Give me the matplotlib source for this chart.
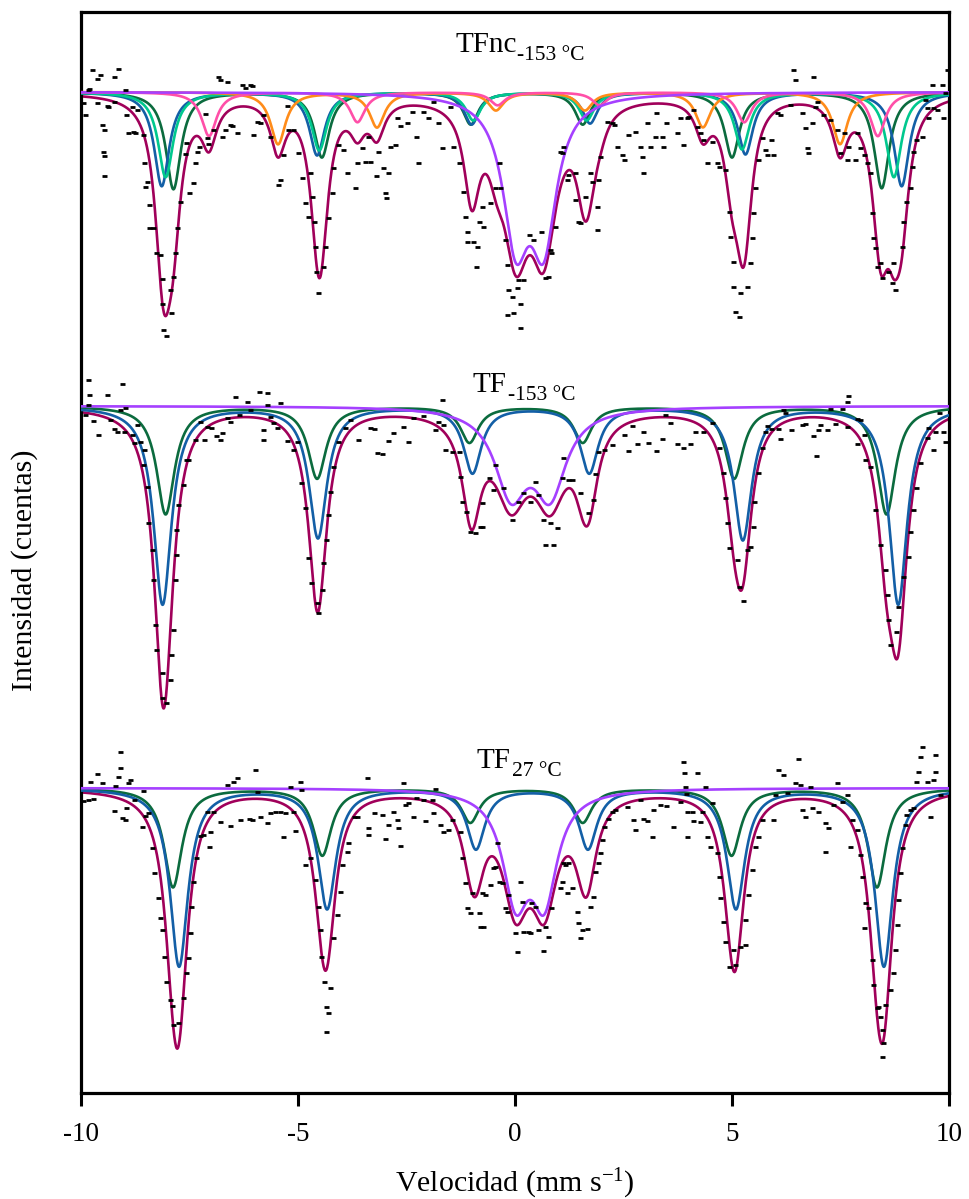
import numpy as np
import matplotlib.pyplot as plt

plt.rcParams['font.family'] = ['Liberation Serif', 'DejaVu Serif']
plt.rcParams['mathtext.fontset'] = 'custom'
plt.rcParams['mathtext.rm'] = 'Liberation Serif'
plt.rcParams['mathtext.default'] = 'regular'
plt.rcParams['axes.unicode_minus'] = False

# ---- colours ----
c_total = '#A0005A'
c_dgreen = '#0B6B3E'
c_blue = '#135FA6'
c_teal = '#00C88E'
c_orange = '#FF8C1A'
c_pink = '#FF4FA8'
c_purple = '#A540FF'

# ---- TFnc -153 C : baseline, sextets (line positions mm/s, depths), doublet ----
tfnc_base = 1001
tfnc_width = 0.21
tfnc_dgreen_pos = [-7.87, -4.45, -1.02, 1.56, 5.0, 8.45]
tfnc_dgreen_dep = [97, 65, 32, 32, 65, 96]
tfnc_blue_pos = [-8.14, -4.56, -1.0, 1.73, 5.31, 8.91]
tfnc_blue_dep = [94, 63, 32, 31, 62, 94]
tfnc_teal_pos = [-8.05, -4.51, -0.96, 1.65, 5.23, 8.73]
tfnc_teal_dep = [85, 58, 28, 28, 57, 85]
tfnc_orange_pos = [-5.46, -3.18, -0.44, 1.61, 4.33, 7.49]
tfnc_orange_dep = [52, 35, 18, 18, 35, 52]
tfnc_pink_pos = [-7.05, -3.63, -0.40, 1.95, 5.28, 8.36]
tfnc_pink_dep = [44, 30, 13, 13, 30, 44]
tfnc_dbl_pos = [0.02, 0.66]
tfnc_dbl_dep = [138, 138]
tfnc_dbl_width = 0.36

# ---- TF -153 C ----
tf153_base = 687
tf153_width = 0.25
tf153_green_pos = [-8.05, -4.56, -1.05, 1.56, 5.05, 8.56]
tf153_green_dep = [108, 72, 36, 36, 72, 108]
tf153_blue_pos = [-8.12, -4.54, -0.98, 1.71, 5.25, 8.83]
tf153_blue_dep = [198, 131, 66, 66, 133, 198]
tf153_dbl_pos = [-0.093, 0.807]
tf153_dbl_dep = [82, 82]
tf153_dbl_width = 0.45

# ---- TF 27 C ----
tf27_base = 305
tf27_width = 0.25
tf27_green_pos = [-7.88, -4.44, -1.03, 1.56, 4.99, 8.34]
tf27_green_dep = [99, 67, 34, 34, 67, 99]
tf27_blue_pos = [-7.74, -4.33, -0.90, 1.68, 5.09, 8.50]
tf27_blue_dep = [178, 120, 60, 60, 120, 178]
tf27_dbl_pos = [0.015, 0.675]
tf27_dbl_dep = [103, 103]
tf27_dbl_width = 0.36

# ---- panel labels ----
label_main = ['TFnc', 'TF', 'TF']
label_sub = ['-153 °C', '-153 °C', '27 °C']
label_x = [-1.38, -0.97, -0.88]
label_y = [1041, 701, 325]

# ---- measured points (velocity mm/s, counts a.u.) ----
tfnc_points = [
    (-9.96, 990), (-9.91, 978), (-9.85, 1003), (-9.81, 1004), (-9.75, 1023), (-9.64, 1014), (-9.56, 1018),
    (-9.62, 990), (-9.52, 968), (-9.47, 963), (-9.49, 941), (-9.46, 937), (-9.47, 917), (-9.41, 987),
    (-9.37, 986), (-9.25, 1016), (-9.24, 991), (-9.14, 1024), (-8.99, 1003), (-8.96, 978), (-8.91, 960),
    (-8.81, 961), (-8.76, 960), (-8.83, 986), (-8.72, 983), (-8.56, 958), (-8.55, 930), (-8.49, 911),
    (-8.53, 906), (-8.43, 888), (-8.43, 865), (-8.33, 865), (-8.28, 840), (-8.18, 838), (-8.14, 814),
    (-8.13, 789), (-8.10, 763), (-8.05, 757), (-7.95, 803), (-7.93, 780), (-7.87, 816), (-7.83, 840),
    (-7.78, 865), (-7.72, 891), (-7.60, 939), (-7.57, 950), (-7.50, 900), (-7.41, 910), (-7.37, 930),
    (-7.33, 941), (-7.27, 946), (-7.14, 979), (-7.10, 955), (-7.07, 949), (-6.95, 963), (-6.84, 1016),
    (-6.80, 1013), (-6.64, 1011), (-6.74, 956), (-6.68, 963), (-6.57, 968), (-6.51, 967), (-6.41, 960),
    (-6.30, 1008), (-6.22, 1005), (-6.11, 1008), (-6.07, 1007), (-6.03, 958), (-5.95, 971), (-5.88, 970),
    (-5.80, 978), (-5.65, 956), (-5.45, 908), (-5.41, 913), (-5.34, 938), (-5.26, 987), (-5.22, 963),
    (-5.11, 963), (-5.01, 940), (-4.90, 915), (-4.84, 890), (-4.76, 876), (-4.72, 920), (-4.67, 896),
    (-4.63, 871), (-4.61, 846), (-4.58, 821), (-4.55, 800), (-4.43, 826), (-4.38, 846), (-4.30, 875),
    (-4.22, 900), (-4.19, 925), (-4.07, 948), (-3.96, 943), (-3.88, 920), (-3.69, 905), (-3.65, 930),
    (-3.53, 945), (-3.46, 931), (-3.38, 956), (-3.34, 931), (-3.20, 917), (-3.16, 941), (-3.03, 925),
    (-2.99, 900), (-2.97, 895), (-2.93, 920), (-2.88, 946), (-2.76, 948), (-2.73, 975), (-2.65, 967),
    (-2.50, 970), (-2.38, 981), (-2.27, 956), (-2.23, 930), (-2.11, 981), (-2.00, 975), (-1.88, 991),
    (-1.77, 970), (-1.69, 945), (-1.50, 986), (-1.42, 946), (-1.29, 930), (-1.19, 901), (-1.15, 876),
    (-1.11, 861), (-1.11, 851), (-0.96, 851), (-0.90, 826), (-0.87, 846), (-0.83, 871),
    (-0.77, 886), (-0.73, 866), (-0.58, 890), (-0.46, 905), (-0.38, 930), (-0.35, 905), (-0.23, 853),
    (-0.19, 828), (-0.15, 803), (-0.08, 796), (-0.19, 778), (-0.04, 780), (0.04, 805), (0.08, 813),
    (0.12, 789), (0.12, 765), (0.19, 813), (0.33, 858), (0.42, 853), (0.61, 861), (0.69, 815),
    (0.77, 816), (0.81, 843), (0.84, 840), (0.92, 866), (1.04, 941), (1.08, 940), (1.11, 946),
    (1.19, 913), (1.23, 918), (1.38, 920), (1.38, 893), (1.46, 871), (1.50, 870), (1.61, 896),
    (1.73, 920), (1.77, 911), (1.88, 886), (1.90, 863), (1.92, 913), (1.96, 936), (2.11, 971),
    (2.23, 970), (2.27, 968), (2.34, 946), (2.46, 938), (2.50, 933), (2.61, 958), (2.76, 961),
    (2.88, 946), (2.92, 936), (2.96, 920), (3.03, 970), (3.11, 946), (3.23, 956), (3.26, 980),
    (3.38, 956), (3.42, 946), (3.49, 970), (3.73, 960), (3.80, 975), (3.88, 948), (3.96, 975),
    (3.99, 976), (4.11, 983), (4.19, 966), (4.26, 960), (4.34, 953), (4.42, 930), (4.53, 951),
    (4.65, 930), (4.69, 926), (4.84, 923), (4.92, 881), (4.95, 856), (5.03, 831), (5.03, 806),
    (5.07, 781), (5.15, 776), (5.18, 800), (5.34, 806), (5.41, 830), (5.45, 855), (5.49, 880),
    (5.53, 905), (5.61, 933), (5.68, 955), (5.76, 943), (5.80, 938), (5.91, 953), (5.95, 938),
    (6.03, 980), (6.11, 978), (6.34, 988), (6.41, 1023), (6.45, 1013), (6.61, 980), (6.68, 965),
    (6.72, 945), (6.76, 940), (6.84, 970), (6.87, 1016), (6.91, 986), (6.95, 991), (7.10, 978),
    (7.26, 973), (7.41, 963), (7.49, 940), (7.57, 960), (7.64, 933), (7.68, 946), (7.83, 933),
    (7.87, 960), (7.95, 945), (8.03, 938), (8.10, 930), (8.18, 920), (8.22, 880), (8.26, 855),
    (8.29, 845), (8.33, 826), (8.41, 830), (8.45, 815), (8.60, 821), (8.68, 810), (8.72, 830),
    (8.76, 803), (8.91, 846), (8.95, 871), (9.02, 891), (9.10, 905), (9.14, 926), (9.18, 941),
    (9.25, 953), (9.37, 956), (9.45, 993), (9.49, 985), (9.52, 975), (9.60, 1008), (9.64, 985),
    (9.72, 983), (9.83, 1008), (9.87, 975), (9.91, 1000), (9.95, 1023),
]

tf153_points = [
    (-9.91, 678), (-9.85, 688), (-9.83, 713), (-9.81, 698), (-9.73, 672), (-9.60, 658), (-9.41, 698),
    (-9.33, 673), (-9.25, 664), (-9.18, 661), (-9.10, 683), (-9.06, 709), (-9.01, 661), (-8.99, 685),
    (-8.83, 658), (-8.79, 650), (-8.72, 668), (-8.64, 651), (-8.55, 643), (-8.56, 628), (-8.49, 606),
    (-8.45, 570), (-8.37, 543), (-8.33, 513), (-8.29, 468), (-8.27, 443), (-8.14, 420), (-8.13, 395),
    (-8.05, 390), (-7.95, 413), (-7.93, 438), (-7.89, 463), (-7.83, 513), (-7.81, 538), (-7.80, 563),
    (-7.76, 588), (-7.66, 608), (-7.57, 633), (-7.53, 633), (-7.37, 653), (-7.26, 671), (-7.17, 653),
    (-7.10, 666), (-7.01, 665), (-6.89, 657), (-6.80, 653), (-6.76, 660), (-6.64, 675), (-6.57, 671),
    (-6.45, 696), (-6.37, 678), (-6.18, 691), (-6.11, 683), (-5.91, 701), (-5.72, 700), (-5.80, 663),
    (-5.80, 653), (-5.72, 688), (-5.65, 676), (-5.57, 670), (-5.49, 665), (-5.41, 690), (-5.26, 652),
    (-5.11, 643), (-5.03, 651), (-4.92, 610), (-4.84, 585), (-4.76, 535), (-4.71, 510), (-4.57, 490),
    (-4.53, 480), (-4.45, 503), (-4.42, 530), (-4.35, 553), (-4.30, 578), (-4.26, 601), (-4.19, 626),
    (-4.07, 651), (-3.92, 665), (-3.80, 673), (-3.61, 653), (-3.34, 665), (-3.26, 664), (-3.19, 640),
    (-3.07, 639), (-2.92, 652), (-2.80, 660), (-2.57, 666), (-2.46, 651), (-2.34, 675), (-2.11, 677),
    (-1.84, 663), (-1.77, 671), (-1.69, 693), (-1.65, 668), (-1.61, 643), (-1.46, 641), (-1.30, 641),
    (-1.27, 616), (-1.23, 591), (-1.13, 581), (-1.04, 561), (-0.92, 560), (-0.81, 566),
    (-0.77, 590), (-0.77, 566), (-0.61, 615), (-0.50, 603), (-0.46, 628), (-0.27, 605), (-0.08, 573),
    (0.08, 591), (0.19, 600), (0.35, 591), (0.46, 611), (0.54, 598), (0.65, 573), (0.81, 570),
    (0.69, 548), (0.88, 548), (0.96, 565), (1.08, 615), (1.11, 635), (1.23, 613), (1.31, 613),
    (1.50, 600), (1.69, 580), (1.80, 593), (1.84, 619), (1.92, 641), (2.04, 643), (2.23, 648),
    (2.50, 658), (2.61, 642), (2.69, 667), (2.80, 649), (2.96, 661), (3.07, 650), (3.24, 642),
    (3.39, 654), (3.46, 678), (3.57, 670), (3.73, 649), (3.88, 645), (4.03, 649), (4.15, 661),
    (4.34, 661), (4.53, 670), (4.69, 645), (4.80, 620), (4.84, 595), (4.88, 570), (4.92, 545),
    (5.11, 533), (5.15, 506), (5.26, 492), (5.34, 543), (5.41, 546), (5.49, 566), (5.51, 591),
    (5.61, 620), (5.68, 645), (5.76, 661), (5.80, 667), (5.91, 664), (6.07, 664), (6.11, 654),
    (6.18, 683), (6.22, 680), (6.37, 663), (6.61, 668), (6.68, 669), (6.87, 657), (6.94, 637),
    (6.99, 663), (7.03, 668), (7.18, 663), (7.26, 684), (7.37, 669), (7.53, 684), (7.64, 691),
    (7.68, 697), (7.64, 666), (7.87, 674), (7.95, 673), (7.87, 649), (8.03, 658), (8.06, 633),
    (8.18, 626), (8.29, 583), (8.41, 548), (8.53, 523), (8.56, 498), (8.60, 473), (8.64, 448),
    (8.78, 461), (8.83, 486), (8.95, 516), (9.06, 536), (9.10, 561), (9.18, 583), (9.25, 605),
    (9.33, 630), (9.49, 655), (9.52, 665), (9.64, 643), (9.68, 661), (9.76, 680), (9.87, 661),
    (9.91, 651),
]

tf27_points = [
    (-9.95, 292), (-9.83, 293), (-9.72, 294), (-9.79, 311), (-9.62, 319), (-9.52, 310), (-9.25, 282),
    (-9.22, 307), (-9.14, 316), (-9.09, 325), (-9.10, 341), (-9.06, 275), (-8.99, 273), (-8.96, 285),
    (-8.91, 310), (-8.86, 313), (-8.79, 293), (-8.60, 266), (-8.56, 302), (-8.53, 277), (-8.45, 280),
    (-8.37, 245), (-8.32, 220), (-8.22, 195), (-8.18, 175), (-8.13, 163), (-8.09, 136), (-8.03, 111),
    (-7.95, 93), (-7.91, 87), (-7.87, 68), (-7.76, 70), (-7.64, 95), (-7.59, 120), (-7.53, 135),
    (-7.49, 160), (-7.47, 186), (-7.41, 211), (-7.35, 235), (-7.26, 257), (-7.18, 258), (-7.10, 281),
    (-7.03, 261), (-7.04, 246), (-6.95, 281), (-6.80, 271), (-6.64, 308), (-6.49, 311), (-6.41, 315),
    (-6.57, 267), (-6.34, 273), (-6.14, 274), (-6.07, 273), (-5.99, 323), (-5.95, 301), (-5.88, 276),
    (-5.72, 270), (-5.65, 280), (-5.53, 281), (-5.41, 281), (-5.34, 256), (-5.30, 280), (-5.18, 306),
    (-5.11, 281), (-5.07, 262), (-4.95, 311), (-4.92, 303), (-4.84, 228), (-4.72, 235), (-4.61, 213),
    (-4.53, 186), (-4.49, 163), (-4.48, 136), (-4.40, 111), (-4.35, 86), (-4.30, 80), (-4.35, 61),
    (-4.26, 105), (-4.19, 155), (-4.11, 178), (-4.03, 201), (-3.99, 228), (-3.88, 241), (-3.84, 250),
    (-3.72, 276), (-3.65, 276), (-3.42, 315), (-3.38, 265), (-3.38, 258), (-3.26, 280), (-3.07, 278),
    (-2.99, 254), (-2.92, 268), (-2.80, 281), (-2.73, 273), (-2.69, 265), (-2.65, 247), (-2.57, 310),
    (-2.53, 288), (-2.46, 290), (-2.34, 276), (-2.27, 295), (-2.11, 293), (-2.07, 272), (-1.92, 293),
    (-1.84, 304), (-1.88, 280), (-1.73, 268), (-1.65, 261), (-1.54, 263), (-1.46, 273), (-1.27, 261),
    (-1.23, 235), (-1.15, 210), (-1.11, 185), (-1.04, 180), (-1.00, 200), (-0.84, 180), (-0.81, 166),
    (-0.77, 200), (-0.73, 166), (-0.69, 198), (-0.58, 208), (-0.50, 225), (-0.46, 226), (-0.42, 250),
    (-0.38, 211), (-0.31, 210), (-0.23, 185), (-0.19, 181), (-0.15, 198), (0.00, 160), (0.04, 141),
    (0.12, 211), (0.15, 191), (0.19, 161), (0.31, 161), (0.35, 160), (0.38, 190), (0.46, 186),
    (0.54, 163), (0.65, 142), (0.69, 166), (0.77, 156), (0.84, 185), (1.04, 205), (1.08, 211),
    (1.11, 230), (1.15, 228), (1.23, 230), (1.19, 200), (1.31, 205), (1.42, 181), (1.46, 170),
    (1.50, 155), (1.54, 163), (1.65, 164), (1.73, 186), (1.80, 196), (1.84, 221), (1.92, 230),
    (1.96, 240), (2.00, 253), (2.04, 266), (2.15, 274), (2.23, 281), (2.30, 283), (2.57, 286),
    (2.73, 273), (2.76, 263), (2.88, 293), (2.96, 274), (3.03, 272), (3.15, 256), (3.19, 283),
    (3.34, 288), (3.49, 287), (3.65, 266), (3.80, 291), (3.88, 331), (3.89, 320), (3.92, 306),
    (3.94, 299), (3.96, 281), (3.96, 256), (4.07, 281), (4.11, 272), (4.19, 320), (4.26, 271),
    (4.30, 281), (4.38, 306), (4.42, 256), (4.49, 246), (4.53, 290), (4.65, 240), (4.69, 216),
    (4.72, 195), (4.80, 171), (4.84, 151), (4.92, 126), (5.03, 143), (5.07, 128), (5.18, 146),
    (5.30, 148), (5.30, 173), (5.38, 198), (5.45, 223), (5.53, 246), (5.61, 256), (5.68, 273),
    (5.95, 273), (5.99, 298), (6.07, 323), (6.18, 318), (6.26, 300), (6.45, 310), (6.53, 334),
    (6.57, 308), (6.61, 283), (6.68, 276), (6.80, 306), (6.84, 285), (6.99, 281), (7.14, 270),
    (7.14, 241), (7.22, 265), (7.33, 288), (7.41, 310), (7.53, 291), (7.64, 298), (7.72, 246),
    (7.76, 273), (7.87, 263), (7.95, 238), (7.99, 216), (8.06, 190), (8.03, 165), (8.14, 185),
    (8.22, 133), (8.26, 108), (8.33, 85), (8.37, 86), (8.41, 76), (8.45, 63), (8.49, 50),
    (8.45, 36), (8.53, 88), (8.64, 103), (8.72, 120), (8.76, 143), (8.80, 168), (8.83, 193),
    (8.87, 220), (8.91, 245), (8.99, 268), (9.02, 278), (9.10, 283), (9.18, 285), (9.25, 311),
    (9.29, 321), (9.33, 336), (9.37, 346), (9.49, 311), (9.56, 276), (9.64, 313), (9.68, 321),
    (9.68, 338), (9.79, 298),
]


def absorption(v, positions, depths, hw):
    # sum of Lorentzian lines (half width hw)
    out = np.zeros_like(v)
    for p, d in zip(positions, depths):
        out += d * hw**2 / ((v - p)**2 + hw**2)
    return out


vel = np.linspace(-10, 10, 2001)

fig = plt.figure(figsize=(9.69, 11.99), dpi=100)
ax = fig.add_axes([81/969, 106/1199, 868/969, 1081/1199])
ax.set_xlim(-10, 10)
ax.set_ylim(0, 1081)

spectra = [
    (tfnc_base, [
        (tfnc_dgreen_pos, tfnc_dgreen_dep, tfnc_width, c_dgreen),
        (tfnc_blue_pos, tfnc_blue_dep, tfnc_width, c_blue),
        (tfnc_teal_pos, tfnc_teal_dep, tfnc_width, c_teal),
        (tfnc_orange_pos, tfnc_orange_dep, tfnc_width, c_orange),
        (tfnc_pink_pos, tfnc_pink_dep, tfnc_width, c_pink),
        (tfnc_dbl_pos, tfnc_dbl_dep, tfnc_dbl_width, c_purple),
    ], tfnc_points),
    (tf153_base, [
        (tf153_green_pos, tf153_green_dep, tf153_width, c_dgreen),
        (tf153_blue_pos, tf153_blue_dep, tf153_width, c_blue),
        (tf153_dbl_pos, tf153_dbl_dep, tf153_dbl_width, c_purple),
    ], tf153_points),
    (tf27_base, [
        (tf27_green_pos, tf27_green_dep, tf27_width, c_dgreen),
        (tf27_blue_pos, tf27_blue_dep, tf27_width, c_blue),
        (tf27_dbl_pos, tf27_dbl_dep, tf27_dbl_width, c_purple),
    ], tf27_points),
]

for base, comps, pts in spectra:
    total = np.zeros_like(vel)
    for pos, dep, hw, col in comps:
        a = absorption(vel, pos, dep, hw)
        total += a
        ax.plot(vel, base - a, color=col, lw=1.9, zorder=3)
    ax.plot(vel, base - total, color=c_total, lw=1.9, zorder=2)
    px = [p[0] for p in pts]
    py = [p[1] for p in pts]
    ax.plot(px, py, ls='none', marker='_', ms=3.6, mew=2.0, color='black', zorder=4)

# labels: main text + subscript placed right after it
renderer = fig.canvas.get_renderer()
for m, s, x, y in zip(label_main, label_sub, label_x, label_y):
    t = ax.text(x, y, m, fontsize=21, ha='left', va='baseline')
    bb = t.get_window_extent(renderer=renderer)
    xr = ax.transData.inverted().transform((bb.x1, bb.y0))[0]
    ax.text(xr + 0.02, y - 8, s, fontsize=15.5, ha='left', va='baseline')

ax.set_yticks([])
ax.set_xticks([-10, -5, 0, 5, 10])
ax.set_xticklabels(['-10', '-5', '0', '5', '10'])
ax.tick_params(axis='x', direction='out', length=9, width=2.2, labelsize=19.5, pad=12)
for s in ax.spines.values():
    s.set_linewidth(2.3)

ax.set_xlabel(r'Velocidad (mm s$^{-1}$)', fontsize=21.5, labelpad=14)
ax.set_ylabel('Intensidad (cuentas)', fontsize=21.5)
ax.yaxis.set_label_coords(-0.05, 0.484)

fig.savefig('out.png', dpi=100)
